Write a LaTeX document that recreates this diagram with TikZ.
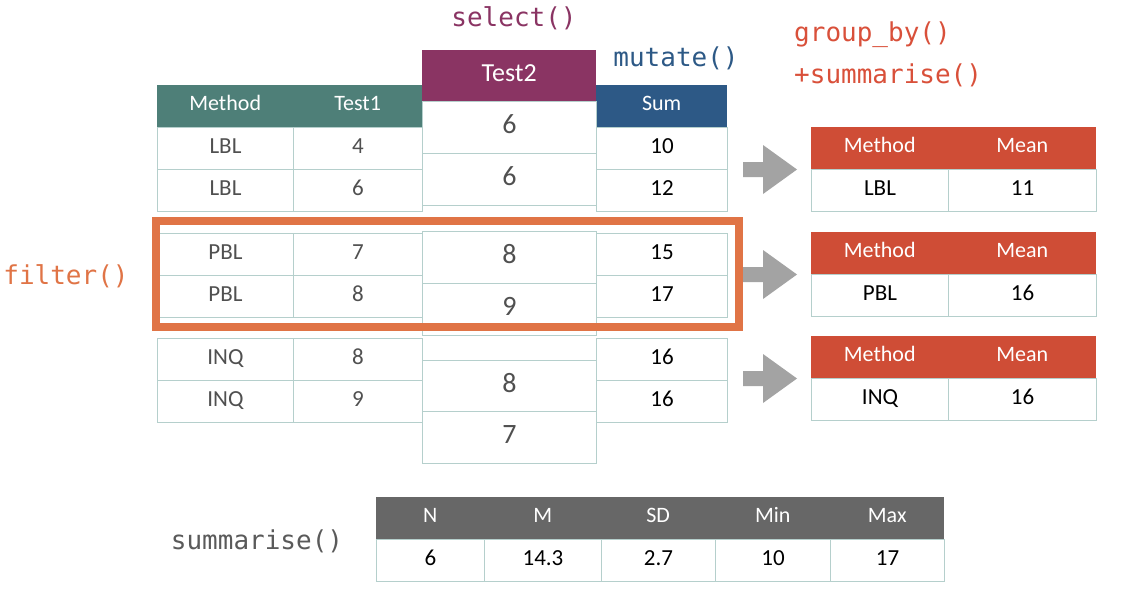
\documentclass[tikz,border=0pt]{standalone}
\usepackage{fontspec}
\setmainfont{Carlito}
\newfontfamily\codefont{DejaVu Sans Mono}
\definecolor{tealhead}{HTML}{4E7F78}
\definecolor{purplehead}{HTML}{8A3463}
\definecolor{bluehead}{HTML}{2D5986}
\definecolor{redhead}{HTML}{CF4D36}
\definecolor{redlabel}{HTML}{D9503A}
\definecolor{filterorange}{HTML}{E07446}
\definecolor{arrowgray}{HTML}{A3A3A3}
\definecolor{darkhead}{HTML}{676767}
\definecolor{cellline}{HTML}{B5CFCC}
\definecolor{valgray}{HTML}{505050}
\definecolor{labelgray}{HTML}{5A5A5A}
\tikzset{
  cell/.style={draw=cellline, line width=1pt, fill=white, anchor=north west, inner sep=0pt,
    minimum height=42pt, text height=14pt, text depth=5pt, text=valgray,
    font=\fontsize{23}{26}\selectfont},
  sumcell/.style={cell, text=black},
  bigcell/.style={cell, minimum width=174pt, minimum height=52pt, text height=17pt,
    text depth=5pt, font=\fontsize{28}{32}\selectfont},
  hdr/.style={anchor=north west, inner sep=0pt, minimum height=42pt, text height=14pt,
    text depth=5pt, text=white, font=\fontsize{22}{26}\selectfont},
  codelabel/.style={inner sep=0pt, font=\codefont\fontsize{26}{30}\selectfont}
}
\begin{document}
\begin{tikzpicture}[x=1pt,y=-1pt]
 \fill[white] (0,0) rectangle (1131,603);
 % main table
 \node[hdr, fill=tealhead, minimum width=136pt] (hMethod) at (157,85) {Method};
 \node[hdr, fill=tealhead, minimum width=129pt] (hTestA) at (293,85) {Test1};
 \node[hdr, fill=bluehead, minimum width=131pt] (hSum) at (596,85) {Sum};
 \node[cell, minimum width=136pt] (methA) at (157,127) {LBL};
 \node[cell, minimum width=129pt] (testA) at (293,127) {4};
 \node[sumcell, minimum width=131pt] (sumA) at (596,127) {10};
 \node[cell, minimum width=136pt] (methB) at (157,169) {LBL};
 \node[cell, minimum width=129pt] (testB) at (293,169) {6};
 \node[sumcell, minimum width=131pt] (sumB) at (596,169) {12};
 \node[cell, minimum width=136pt] (methC) at (157,233) {PBL};
 \node[cell, minimum width=129pt] (testC) at (293,233) {7};
 \node[sumcell, minimum width=131pt] (sumC) at (596,233) {15};
 \node[cell, minimum width=136pt] (methD) at (157,275) {PBL};
 \node[cell, minimum width=129pt] (testD) at (293,275) {8};
 \node[sumcell, minimum width=131pt] (sumD) at (596,275) {17};
 \node[cell, minimum width=136pt] (methE) at (157,338) {INQ};
 \node[cell, minimum width=129pt] (testE) at (293,338) {8};
 \node[sumcell, minimum width=131pt] (sumE) at (596,338) {16};
 \node[cell, minimum width=136pt] (methF) at (157,380) {INQ};
 \node[cell, minimum width=129pt] (testF) at (293,380) {9};
 \node[sumcell, minimum width=131pt] (sumF) at (596,380) {16};
 % selected column
 \node[hdr, fill=purplehead, minimum width=174pt, minimum height=51pt, text height=16pt,
   font=\fontsize{26}{30}\selectfont] (hTestB) at (422,50) {Test2};
 \node[bigcell] (selA) at (422,101) {6};
 \node[bigcell] (selB) at (422,153) {6};
 \node[bigcell] (selC) at (422,231) {8};
 \node[bigcell] (selD) at (422,283) {9};
 \node[bigcell] (selE) at (422,360) {8};
 \node[bigcell] (selF) at (422,411) {7};
 % filter box
 \draw[filterorange, line width=8pt] (156,221) rectangle (739,327);
 % arrows
 \fill[arrowgray] (743,162) -- (763,162) -- (763,145) -- (797,169.5) -- (763,194) -- (763,177) -- (743,177) -- cycle;
 \fill[arrowgray] (743,267) -- (763,267) -- (763,250) -- (797,274.5) -- (763,299) -- (763,282) -- (743,282) -- cycle;
 \fill[arrowgray] (743,371) -- (763,371) -- (763,354) -- (797,378.5) -- (763,403) -- (763,386) -- (743,386) -- cycle;
 % grouped tables
 \node[hdr, fill=redhead, minimum width=137pt] (gMethA) at (811,127) {Method};
 \node[hdr, fill=redhead, minimum width=148pt] (gMeanA) at (948,127) {Mean};
 \node[sumcell, minimum width=137pt] (gLBL) at (811,169) {LBL};
 \node[sumcell, minimum width=148pt] (gValA) at (948,169) {11};
 \node[hdr, fill=redhead, minimum width=137pt] (gMethB) at (811,232) {Method};
 \node[hdr, fill=redhead, minimum width=148pt] (gMeanB) at (948,232) {Mean};
 \node[sumcell, minimum width=137pt] (gPBL) at (811,274) {PBL};
 \node[sumcell, minimum width=148pt] (gValB) at (948,274) {16};
 \node[hdr, fill=redhead, minimum width=137pt] (gMethC) at (811,336) {Method};
 \node[hdr, fill=redhead, minimum width=148pt] (gMeanC) at (948,336) {Mean};
 \node[sumcell, minimum width=137pt] (gINQ) at (811,378) {INQ};
 \node[sumcell, minimum width=148pt] (gValC) at (948,378) {16};
 % summary table
 \node[hdr, fill=darkhead, minimum width=108pt] (sN) at (376,497) {N};
 \node[hdr, fill=darkhead, minimum width=117pt] (sM) at (484,497) {M};
 \node[hdr, fill=darkhead, minimum width=114pt] (sSD) at (601,497) {SD};
 \node[hdr, fill=darkhead, minimum width=115pt] (sMin) at (715,497) {Min};
 \node[hdr, fill=darkhead, minimum width=114pt] (sMax) at (830,497) {Max};
 \node[sumcell, minimum width=108pt] (vN) at (376,539) {6};
 \node[sumcell, minimum width=117pt] (vM) at (484,539) {14.3};
 \node[sumcell, minimum width=114pt] (vSD) at (601,539) {2.7};
 \node[sumcell, minimum width=115pt] (vMin) at (715,539) {10};
 \node[sumcell, minimum width=114pt] (vMax) at (830,539) {17};
 % function labels
 \node[codelabel, text=purplehead] (lSelect) at (514,18) {select()};
 \node[codelabel, text=bluehead] (lMutate) at (676,58) {mutate()};
 \node[codelabel, text=redlabel, anchor=west] (lGroup) at (794,35) {group\_by()};
 \node[codelabel, text=redlabel, anchor=west] (lGroupSum) at (794,75) {+summarise()};
 \node[codelabel, text=filterorange] (lFilter) at (66,276) {filter()};
 \node[codelabel, text=labelgray] (lSummarise) at (257,541) {summarise()};
\end{tikzpicture}
\end{document}
